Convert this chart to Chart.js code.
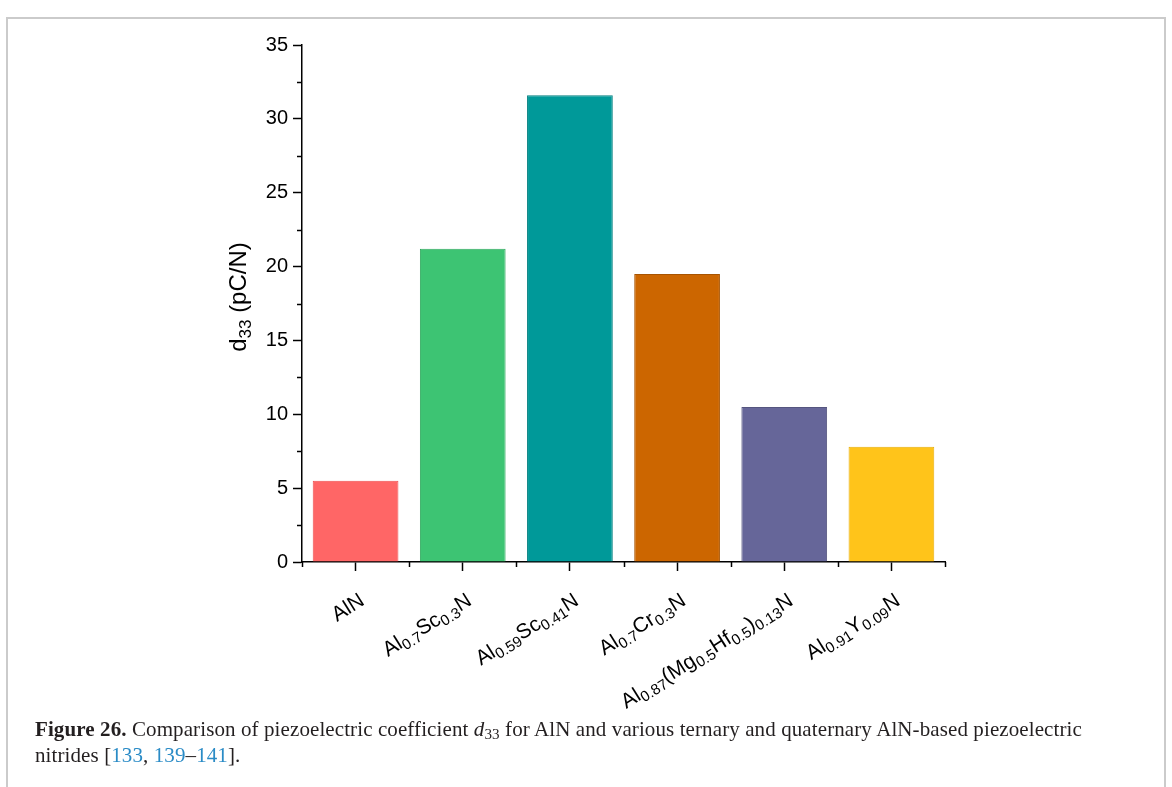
<!DOCTYPE html>
<html><head><meta charset="utf-8">
<script src="https://cdn.jsdelivr.net/npm/chart.js@4.4.1/dist/chart.umd.min.js"></script>
<style>
html,body{margin:0;padding:0;background:#fff;}
#frame{position:absolute;left:6px;top:17px;width:1156px;height:800px;border:2px solid #cbcbcb;border-bottom:none;}
#wrap{position:absolute;left:0;top:0;width:1172px;height:787px;}
#cap{position:absolute;left:35px;top:717px;font-family:"Liberation Serif",serif;font-size:21px;line-height:24px;letter-spacing:0.1px;color:#231f20;white-space:nowrap;}
#cap .ref{color:#2a8bc6;}
#cap .sb{font-size:0.72em;position:relative;top:0.18em;}
</style></head>
<body>
<div id="frame"></div>
<div id="wrap"><canvas id="c" width="1172" height="787"></canvas></div>
<div id="cap"><b>Figure 26.</b> Comparison of piezoelectric coefficient <i>d</i><span class="sb">33</span> for AlN and various ternary and quaternary AlN-based piezoelectric<br>nitrides [<span class="ref">133</span>, <span class="ref">139</span>–<span class="ref">141</span>].</div>
<script>
// ---- data ----
const categories = ["AlN", "Al_{0.7}Sc_{0.3}N", "Al_{0.59}Sc_{0.41}N", "Al_{0.7}Cr_{0.3}N", "Al_{0.87}(Mg_{0.5}Hf_{0.5})_{0.13}N", "Al_{0.91}Y_{0.09}N"];
const d33Values = [5.5, 21.2, 31.6, 19.5, 10.5, 7.8];
const barColors = ["#FF6666", "#3DC473", "#009999", "#CC6600", "#666699", "#FFC41A"];
const barEdges  = ["#EE4F4F", "#2FA85E", "#007F7F", "#A85400", "#55557F", "#E8AE08"];
const yTitle = "d_{33} (pC/N)";
const yMin = 0, yMax = 35, yStep = 5, yMinorStep = 2.5;

// ---- rich text helpers (subscripts) ----
function parseRich(s) {
  const out = [];
  const re = /_\{([^}]*)\}/g;
  let last = 0, m;
  while ((m = re.exec(s)) !== null) {
    if (m.index > last) out.push({t: s.slice(last, m.index), sub: false});
    out.push({t: m[1], sub: true});
    last = re.lastIndex;
  }
  if (last < s.length) out.push({t: s.slice(last), sub: false});
  return out;
}
function richWidth(ctx, segs, fam, size, subSize) {
  let w = 0;
  for (const g of segs) {
    ctx.font = (g.sub ? subSize : size) + "px " + fam;
    w += ctx.measureText(g.t).width;
  }
  return w;
}
function drawRich(ctx, segs, x, y, fam, size, subSize, subDrop, align) {
  const w = richWidth(ctx, segs, fam, size, subSize);
  let cx = align === "right" ? x - w : (align === "center" ? x - w / 2 : x);
  ctx.textAlign = "left";
  ctx.textBaseline = "alphabetic";
  for (const g of segs) {
    ctx.font = (g.sub ? subSize : size) + "px " + fam;
    ctx.fillText(g.t, cx, y + (g.sub ? subDrop : 0));
    cx += ctx.measureText(g.t).width;
  }
}

const FAM = '"Liberation Sans", Arial, sans-serif';
const CANVAS_H = 787;

const decor = {
  id: "decor",
  afterDraw(chart) {
    const ctx = chart.ctx;
    const xs = chart.scales.x, ys = chart.scales.y;
    const area = chart.chartArea;
    ctx.save();
    ctx.strokeStyle = "#000";
    ctx.lineWidth = 1.5;
    // minor y ticks
    for (let v = yMin + yMinorStep; v < yMax; v += yStep) {
      const py = Math.round(ys.getPixelForValue(v)) + 0.5;
      ctx.beginPath();
      ctx.moveTo(area.left, py);
      ctx.lineTo(area.left - 5, py);
      ctx.stroke();
    }
    // minor x ticks at category boundaries
    const n = categories.length;
    const cw = (area.right - area.left) / n;
    for (let i = 0; i <= n; i++) {
      const px = Math.round(area.left + i * cw) + 0.5;
      ctx.beginPath();
      ctx.moveTo(px, area.bottom);
      ctx.lineTo(px, area.bottom + 5);
      ctx.stroke();
    }
    // x labels, rotated, with subscripts
    ctx.fillStyle = "#000";
    categories.forEach((lab, i) => {
      const tx = xs.getPixelForValue(i);
      ctx.save();
      ctx.translate(tx + 10, area.bottom + 42);
      ctx.rotate(-32 * Math.PI / 180);
      drawRich(ctx, parseRich(lab), 0, 0, FAM, 21, 15, 4, "right");
      ctx.restore();
    });
    // y title
    ctx.save();
    ctx.translate(246, 297);
    ctx.rotate(-Math.PI / 2);
    drawRich(ctx, parseRich(yTitle), 0, 0, FAM, 24, 17, 5, "center");
    ctx.restore();
    ctx.restore();
  }
};

new Chart(document.getElementById("c").getContext("2d"), {
  type: "bar",
  data: {
    labels: categories,
    datasets: [{
      data: d33Values,
      backgroundColor: barColors,
      borderColor: barEdges,
      borderWidth: 1,
      barPercentage: 0.8,
      categoryPercentage: 1.0
    }]
  },
  options: {
    responsive: false,
    animation: false,
    devicePixelRatio: 1,
    layout: {padding: {left: 0, right: 227, top: 45, bottom: 0}},
    plugins: {legend: {display: false}, tooltip: {enabled: false}},
    scales: {
      x: {
        offset: true,
        grid: {display: true, offset: false, drawOnChartArea: false, drawTicks: true, tickLength: 9, tickWidth: 1.5, tickColor: "#000"},
        border: {display: true, color: "#000", width: 1.5},
        ticks: {display: false},
        afterFit(s) { s.height = CANVAS_H - 562; }
      },
      y: {
        min: yMin, max: yMax,
        ticks: {stepSize: yStep, color: "#000", padding: 5, font: {family: FAM, size: 20}},
        grid: {display: true, drawOnChartArea: false, drawTicks: true, tickLength: 9, tickWidth: 1.5, tickColor: "#000"},
        border: {display: true, color: "#000", width: 1.5},
        afterFit(s) { s.width = 302; }
      }
    }
  },
  plugins: [decor]
});
</script>
</body></html>
